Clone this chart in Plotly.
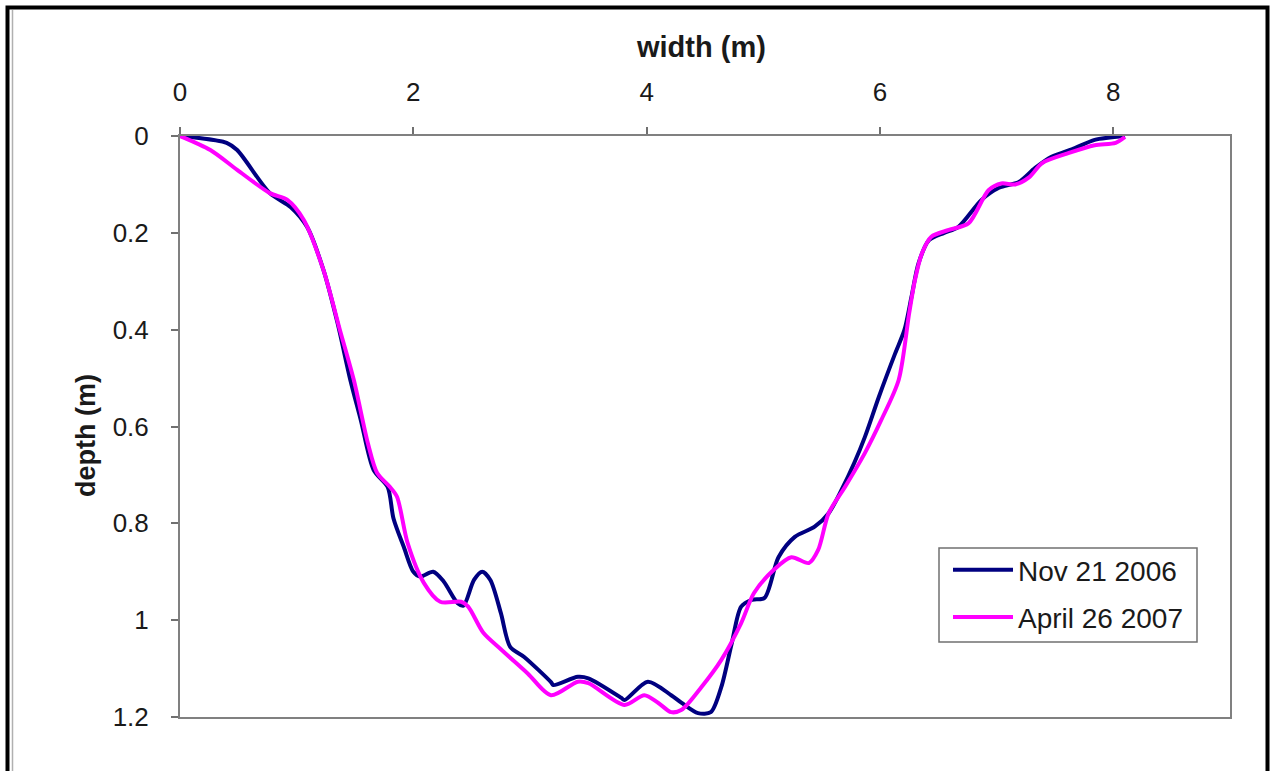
import plotly.graph_objects as go

# Nov 21 2006 profile (width m, depth m)
nov_x = [0.0, 0.09, 0.40, 0.49, 0.77, 0.95, 1.09, 1.23, 1.35, 1.46, 1.55, 1.66, 1.78, 1.83, 1.92,
         2.0, 2.06, 2.17, 2.26, 2.38, 2.43, 2.52, 2.59, 2.66, 2.75, 2.83, 2.95, 3.18, 3.2,
         3.41, 3.50, 3.78, 3.81, 4.01, 4.21, 4.30, 4.44, 4.55, 4.64, 4.73, 4.81, 4.90, 5.01,
         5.13, 5.27, 5.44, 5.56, 5.67, 5.78, 5.87, 5.99, 6.13, 6.21, 6.27, 6.33, 6.42, 6.55,
         6.67, 6.87, 7.02, 7.19, 7.33, 7.47, 7.67, 7.84, 8.10]
nov_y = [0.0, 0.002, 0.014, 0.029, 0.118, 0.147, 0.188, 0.277, 0.386, 0.504, 0.587, 0.69, 0.725, 0.79, 0.85,
         0.90, 0.91, 0.90, 0.92, 0.965, 0.97, 0.917, 0.90, 0.917, 0.985, 1.055, 1.076, 1.128, 1.134,
         1.117, 1.12, 1.16, 1.165, 1.127, 1.155, 1.171, 1.192, 1.19, 1.138, 1.047, 0.972, 0.958, 0.954,
         0.87, 0.828, 0.807, 0.779, 0.731, 0.675, 0.622, 0.539, 0.449, 0.40, 0.332, 0.263, 0.215, 0.20,
         0.188, 0.132, 0.107, 0.095, 0.066, 0.043, 0.025, 0.008, 0.0]

# April 26 2007 profile (width m, depth m)
apr_x = [0.0, 0.26, 0.49, 0.77, 0.92, 1.06, 1.23, 1.37, 1.49, 1.61, 1.69, 1.80, 1.86, 1.95,
         2.09, 2.23, 2.41, 2.47, 2.60, 2.75, 2.98, 3.18, 3.41, 3.50, 3.81, 3.98, 4.10,
         4.21, 4.30, 4.47, 4.64, 4.81, 4.92, 5.09, 5.24, 5.39, 5.47, 5.56, 5.70, 5.87, 6.01,
         6.16, 6.25, 6.30, 6.36, 6.44, 6.59, 6.76, 6.93, 7.04, 7.16, 7.28, 7.39, 7.62, 7.84,
         8.02, 8.10]
apr_y = [0.0, 0.029, 0.07, 0.118, 0.132, 0.173, 0.277, 0.40, 0.504, 0.634, 0.696, 0.725, 0.745, 0.84,
         0.923, 0.962, 0.962, 0.972, 1.026, 1.06, 1.11, 1.155, 1.127, 1.13, 1.175, 1.155, 1.171,
         1.19, 1.185, 1.138, 1.082, 1.006, 0.944, 0.896, 0.87, 0.882, 0.855, 0.779, 0.725, 0.655, 0.587,
         0.504, 0.366, 0.297, 0.242, 0.208, 0.194, 0.18, 0.112, 0.098, 0.10, 0.085, 0.056, 0.035, 0.019,
         0.014, 0.002]

x_ticks = [0, 2, 4, 6, 8]
y_ticks = [0, 0.2, 0.4, 0.6, 0.8, 1.0, 1.2]
y_tick_labels = ["0", "0.2", "0.4", "0.6", "0.8", "1", "1.2"]

FONT = "Liberation Sans, Arial, sans-serif"
TXT = "#1a1a1a"

fig = go.Figure()
fig.add_trace(go.Scatter(x=nov_x, y=nov_y, mode="lines", name="Nov 21 2006",
                         line=dict(color="#000080", width=4, shape="spline", smoothing=0.8),
                         legendgroup="a"))
fig.add_trace(go.Scatter(x=apr_x, y=apr_y, mode="lines", name="April 26 2007",
                         line=dict(color="#FF00FF", width=4, shape="spline", smoothing=0.8),
                         legendgroup="b"))

L, R, T, B = 180, 40, 136, 54
W, H = 1270, 771
pw, ph = W - L - R, H - T - B

def px(xp):
    return (xp - L) / pw

def py(yp):
    return (H - B - yp) / ph

fig.update_layout(
    width=W, height=H,
    margin=dict(l=L, r=R, t=T, b=B, pad=0),
    paper_bgcolor="white", plot_bgcolor="white",
    font=dict(family=FONT, size=26, color=TXT),
    showlegend=True,
    legend=dict(x=px(948), y=py(545), xanchor="left", yanchor="top",
                bgcolor="rgba(0,0,0,0)", borderwidth=0,
                font=dict(family=FONT, size=28, color=TXT),
                tracegroupgap=8, traceorder="grouped",
                itemwidth=60),
    xaxis=dict(range=[0, 9], side="top", tickvals=x_ticks, ticks="outside", ticklen=7,
               tickcolor="#707070", tickwidth=1.5, showline=True, linecolor="#808080",
               linewidth=2, mirror=True, showgrid=False, zeroline=False,
               ticklabelstandoff=16, tickfont=dict(size=26, color=TXT)),
    yaxis=dict(range=[1.2, 0], tickvals=y_ticks, ticktext=y_tick_labels, ticks="outside",
               ticklen=7, tickcolor="#707070", tickwidth=1.5, showline=True,
               linecolor="#808080", linewidth=2, mirror=True, showgrid=False,
               zeroline=False, ticklabelstandoff=17, tickfont=dict(size=26, color=TXT)),
    annotations=[
        dict(text="<b>width (m)</b>", x=px(701), y=py(47), xref="paper", yref="paper",
             showarrow=False, font=dict(size=29, color=TXT), xanchor="center", yanchor="middle"),
        dict(text="<b>depth (m)</b>", x=px(86), y=py(436), xref="paper", yref="paper",
             showarrow=False, textangle=-90, font=dict(size=27, color=TXT),
             xanchor="center", yanchor="middle"),
    ],
    shapes=[
        # legend frame
        dict(type="rect", xref="paper", yref="paper", x0=px(939), x1=px(1197),
             y0=py(548), y1=py(642), line=dict(color="#707070", width=1.5),
             fillcolor="white", layer="below"),
        # outer picture frame
        dict(type="rect", xref="paper", yref="paper", x0=px(7.5), x1=px(1267.5),
             y0=py(7.5), y1=py(800), line=dict(color="black", width=4), layer="above"),
        dict(type="line", xref="paper", yref="paper", x0=px(12.5), x1=px(12.5),
             y0=py(10), y1=py(800), line=dict(color="#b0b0b0", width=1.5)),
    ],
)

fig.write_html("out.html")
